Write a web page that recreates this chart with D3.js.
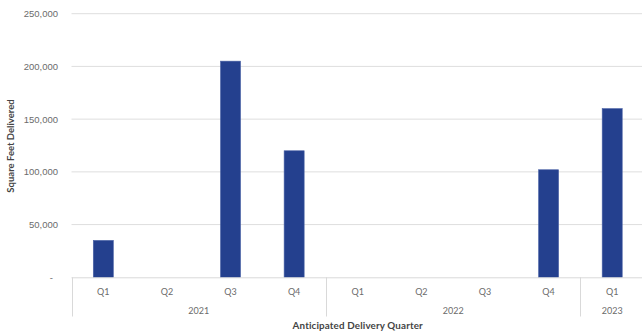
<!DOCTYPE html>
<html><head><meta charset="utf-8">
<script src="https://cdn.jsdelivr.net/npm/d3@7/dist/d3.min.js"></script>
<style>
html,body{margin:0;padding:0;background:#fff;}
svg{display:block;font-family:Lato,"Open Sans",sans-serif;}
</style></head><body>
<svg id="c" width="642" height="335"></svg>
<script>
const quarters = ["Q1","Q2","Q3","Q4","Q1","Q2","Q3","Q4","Q1"];
const years = ["2021","2021","2021","2021","2022","2022","2022","2022","2023"];
const values = [35000, 0, 205000, 120000, 0, 0, 0, 102000, 160000];
const yTicks = [0, 50000, 100000, 150000, 200000, 250000];
const yearGroups = ["2021","2022","2023"];

(function(){
const svg = d3.select("#c");
const mLeft = 71.5, mRight = 644, mTop = 13.7, mBottom = 277.3;
const keys = quarters.map((q,i)=>years[i]+"-"+q);

const x = d3.scaleBand().domain(keys).range([mLeft,mRight]).paddingInner(0.685).paddingOuter(0.3425);
const y = d3.scaleLinear().domain([0,250000]).range([mBottom,mTop]);

// gridlines
svg.append("g").selectAll("line").data(yTicks.filter(d=>d>0)).join("line")
  .attr("x1",mLeft).attr("x2",642).attr("y1",d=>y(d)).attr("y2",d=>y(d))
  .attr("stroke","#dedede").attr("stroke-width",1);

// y axis
const yAxis = d3.axisLeft(y).tickValues(yTicks).tickSize(0).tickPadding(0)
  .tickFormat(d=> d===0 ? "-" : d3.format(",")(d));
const ya = svg.append("g").attr("transform",`translate(${58},0)`).call(yAxis);
ya.select(".domain").remove();
ya.selectAll("text").attr("fill","#6b6b6b").style("font-size","9.5px");
ya.selectAll(".tick").filter(d=>d===0).select("text").attr("dx","-5");

// bars
svg.append("g").selectAll("rect").data(values.map((v,i)=>({k:keys[i],v}))).join("rect")
  .attr("x",d=>x(d.k)).attr("width",x.bandwidth())
  .attr("y",d=>y(d.v)).attr("height",d=>mBottom-y(d.v))
  .attr("fill","#24408e").attr("stroke","#4a62a6").attr("stroke-width",0.6)
  .style("display",d=>d.v>0?null:"none");

// x baseline
svg.append("line").attr("x1",mLeft).attr("x2",642).attr("y1",mBottom+0.5).attr("y2",mBottom+0.5)
  .attr("stroke","#d9d9d9");

// quarter labels
const step = x.step();
svg.append("g").selectAll("text").data(keys).join("text")
  .attr("x",d=>x(d)+x.bandwidth()/2).attr("y",294.5)
  .attr("text-anchor","middle").attr("fill","#6b6b6b").style("font-size","9px")
  .text((d,i)=>quarters[i]);

// year groups
const groupInfo = yearGroups.map(g=>{
  const idx = years.map((yy,i)=>yy===g?i:-1).filter(i=>i>=0);
  return {g, start: mLeft+idx[0]*step, end: mLeft+(idx[idx.length-1]+1)*step};
});
svg.append("g").selectAll("line").data(groupInfo).join("line")
  .attr("x1",d=>Math.round(d.start)+0.5).attr("x2",d=>Math.round(d.start)+0.5)
  .attr("y1",mBottom).attr("y2",316.5).attr("stroke","#d9d9d9");
svg.append("g").selectAll("text").data(groupInfo).join("text")
  .attr("x",d=>(d.start+d.end)/2).attr("y",313.5)
  .attr("text-anchor","middle").attr("fill","#6b6b6b").style("font-size","9px")
  .text(d=>d.g);

// axis titles
svg.append("text").attr("x",(mLeft+mRight)/2).attr("y",329).attr("text-anchor","middle")
  .attr("fill","#444").style("font-size","9.8px").style("font-weight","bold").style("letter-spacing","0.15px")
  .text("Anticipated Delivery Quarter");
svg.append("text").attr("transform","translate(14,146) rotate(-90)").attr("text-anchor","middle")
  .attr("fill","#444").style("font-size","9.5px").style("font-weight","bold")
  .text("Square Feet Delivered");
})();
</script></body></html>
